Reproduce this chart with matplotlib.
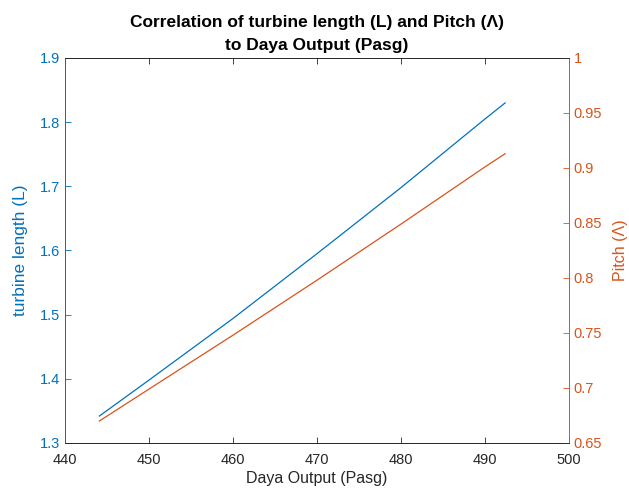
import matplotlib.pyplot as plt

plt.rcParams['font.family'] = ['Liberation Sans', 'DejaVu Sans']

daya = [444.1, 450, 460, 470, 480, 490, 492.4]
turbine_length = [1.342, 1.398, 1.494, 1.595, 1.698, 1.805, 1.830]
pitch = [0.670, 0.699, 0.748, 0.798, 0.849, 0.901, 0.913]

blue = '#0072BD'
orange = '#D95319'

fig = plt.figure(figsize=(6.29, 4.94), dpi=100)
ax = fig.add_axes([0.1033, 0.1033, 0.8013, 0.7793])
ax2 = ax.twinx()

ax.plot(daya, turbine_length, color=blue, lw=0.9)
ax2.plot(daya, pitch, color=orange, lw=0.9)

ax.set_xlim(440, 500)
ax.set_ylim(1.3, 1.9)
ax2.set_ylim(0.65, 1.0)
ax.set_xticks(range(440, 501, 10))
ax.set_yticks([1.3, 1.4, 1.5, 1.6, 1.7, 1.8, 1.9])
ax2.set_yticks([0.65, 0.7, 0.75, 0.8, 0.85, 0.9, 0.95, 1.0])
ax2.set_yticklabels(['0.65', '0.7', '0.75', '0.8', '0.85', '0.9', '0.95', '1'])

ax.tick_params(axis='x', direction='in', top=True, colors='#262626', labelsize=10.5,
               length=4, width=0.6, pad=7)
ax.tick_params(axis='y', direction='in', colors=blue, labelsize=10.5, length=4, width=0.6)
ax2.tick_params(axis='y', direction='in', colors=orange, labelsize=10.5, length=4, width=0.6)

for a in (ax, ax2):
    a.spines['top'].set_color('#262626')
    a.spines['bottom'].set_color('#262626')
    a.spines['left'].set_color(blue)
    a.spines['right'].set_color(orange)
    for s in a.spines.values():
        s.set_linewidth(0.6)

ax.set_xlabel('Daya Output (Pasg)', fontsize=11.5, color='#262626', labelpad=3)
ax.set_ylabel('turbine length (L)', fontsize=12.5, color=blue)
ax.yaxis.set_label_coords(-0.073, 0.5)
ax2.set_ylabel('Pitch (\u039b)', fontsize=11.5, color=orange)
ax2.yaxis.set_label_coords(1.087, 0.5)

ax.set_title('Correlation of turbine length (L) and Pitch (\u039b)\nto Daya Output (Pasg)',
             fontsize=12.5, fontweight='bold', pad=6, linespacing=1.65)

fig.savefig('out.png', dpi=100)
